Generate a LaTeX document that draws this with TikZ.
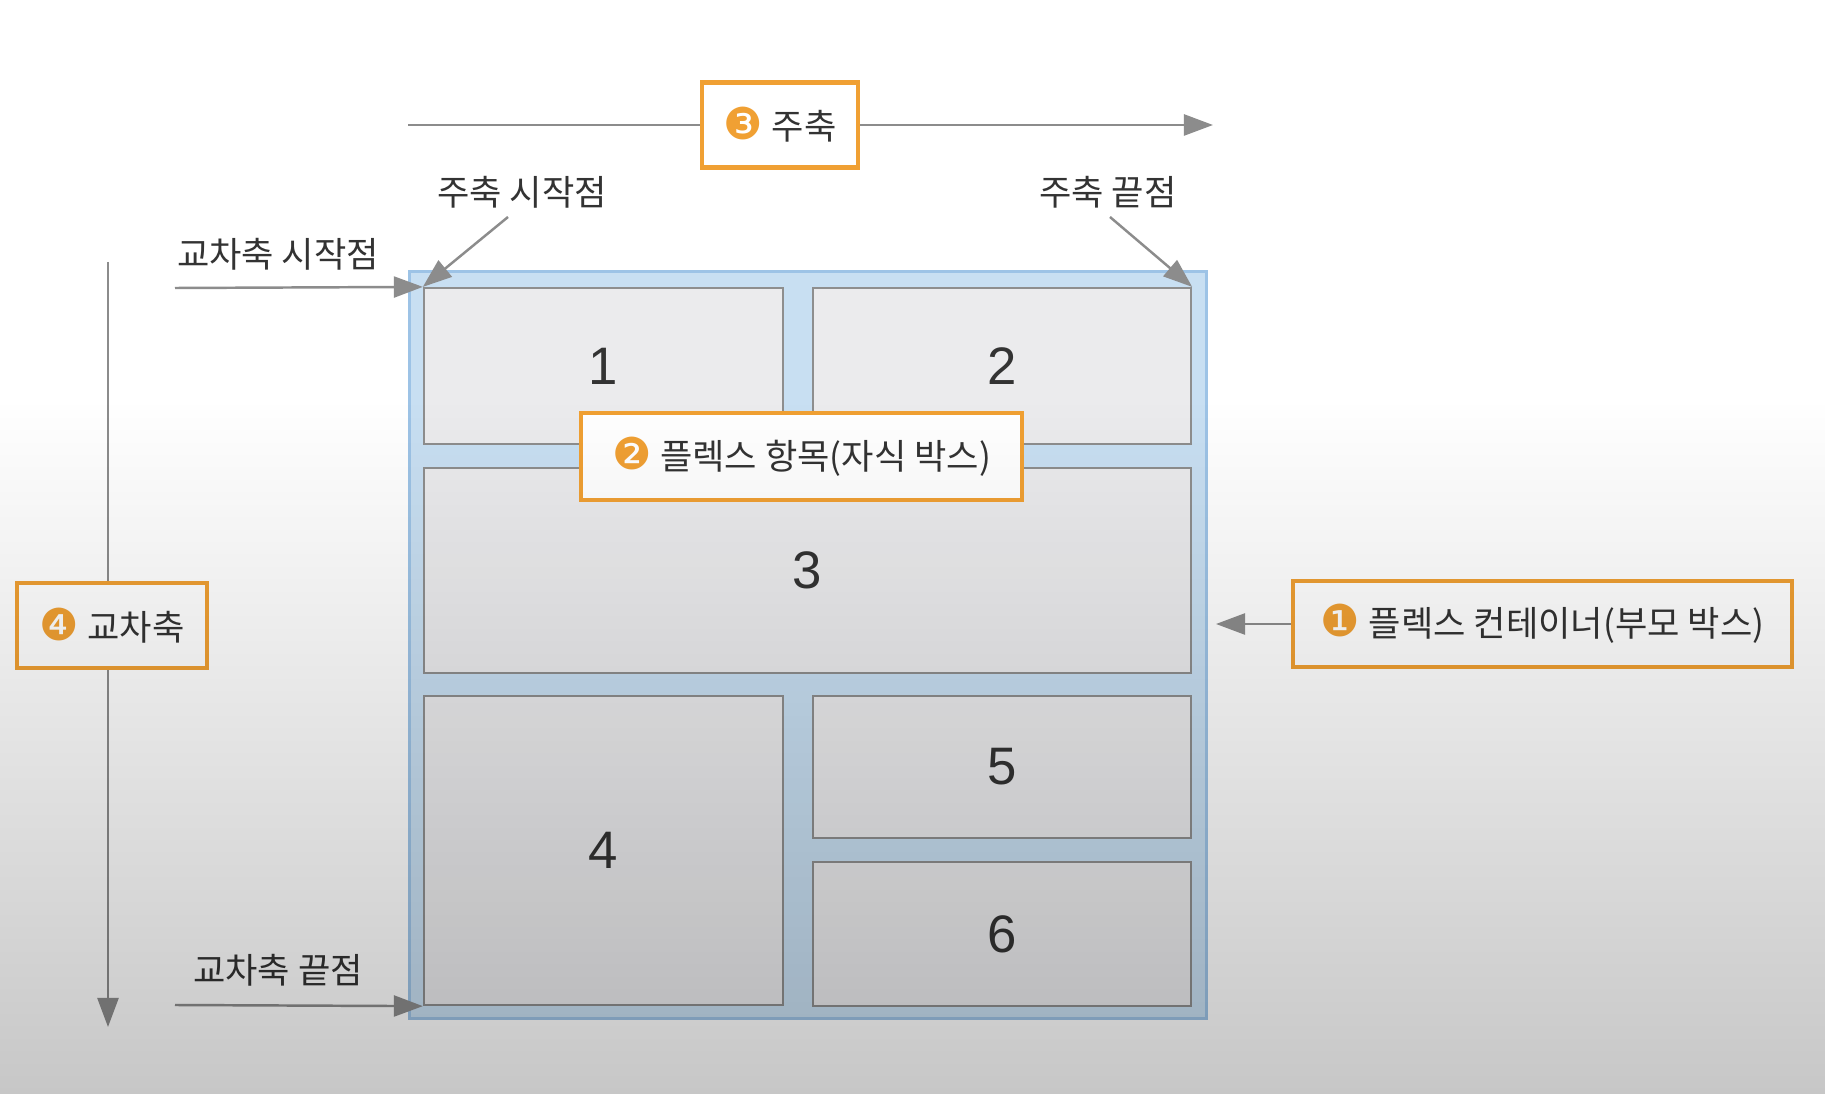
\documentclass[tikz,border=0pt]{standalone}
\usepackage{fontspec}
\setmainfont{Noto Sans CJK KR}
\newfontfamily\numfont{Liberation Sans}
\newfontfamily\dingfont{DejaVu Sans}
\usepackage{xcolor}
\usetikzlibrary{positioning, arrows.meta, calc, fadings}
\definecolor{axisgray}{HTML}{8C8C8C}
\definecolor{calloutorange}{HTML}{F0A033}
\definecolor{flexblue}{HTML}{C8DFF2}
\definecolor{flexedge}{HTML}{9DC3E6}
\definecolor{itemfill}{HTML}{EBEBED}
\definecolor{itemedge}{HTML}{8E8E8E}
\definecolor{labeltext}{HTML}{333333}
\newcommand{\badge}[1]{{\dingfont\fontsize{12.5}{12.5}\selectfont\color{calloutorange}#1}}
\tikzfading[name=greydown, top color=transparent!100, bottom color=transparent!78]

\begin{document}
\begin{tikzpicture}[x=0.01cm, y=-0.01cm,
  font=\fontsize{10}{12}\selectfont, text=labeltext,
  axis/.style={-{Triangle[length=0.29cm,width=0.21cm]}, line width=0.7pt, axisgray},
  axisline/.style={line width=0.7pt, axisgray},
  flexbox/.style={draw=flexedge, fill=flexblue, line width=0.8pt},
  item/.style={draw=itemedge, fill=itemfill, line width=0.6pt, inner sep=0pt,
    font=\numfont\fontsize{15}{15}\selectfont},
  callout/.style={draw=calloutorange, fill=white, line width=1.2pt, inner sep=0pt}]
\fill[white] (0,0) rectangle (1826,1094);
\useasboundingbox (0,0) rectangle (1826,1094);

% parent box and its items
\node[flexbox, minimum width=7.96cm, minimum height=7.46cm] (flexcont) at (808,645) {};
\foreach \n/\cx/\cy/\w/\h in {1/603.5/366/3.59/1.56, 2/1002/366/3.78/1.56,
  3/807.5/570.5/7.67/2.05, 4/603.5/850.5/3.59/3.09, 5/1002/767/3.78/1.42, 6/1002/934/3.78/1.44}
 {
  \node[item, minimum width=\w cm, minimum height=\h cm] (item\n) at (\cx,\cy) {\n};
 }

% callouts
\node[callout, minimum width=1.56cm, minimum height=0.85cm] (mainlbl) at (780,125) {\badge{❸}\hspace{0.25em}주축};
\node[callout, minimum width=4.41cm, minimum height=0.87cm] (itemlbl) at (801.5,456.5) {\badge{❷}\hspace{0.25em}플렉스 항목(자식 박스)};
\node[callout, minimum width=4.99cm, minimum height=0.86cm] (contlbl) at (1542.5,624) {\badge{❶}\hspace{0.25em}플렉스 컨테이너(부모 박스)};
\node[callout, minimum width=1.90cm, minimum height=0.85cm] (crosslbl) at (112,625.5) {\badge{❹}\hspace{0.25em}교차축};

\node (mslbl) at (522,192) {주축 시작점};
\node (melbl) at (1108,192) {주축 끝점};
\node (cslbl) at (278,254) {교차축 시작점};
\node (celbl) at (278,970) {교차축 끝점};

\coordinate (mainstart) at (408,125);
\coordinate (mainend) at (1213,125);
\coordinate (crossstart) at (108,262);
\coordinate (crossend) at (108,1027);
\coordinate (msfrom) at (508,217);
\coordinate (mefrom) at (1110,217);
\coordinate (csfrom) at (175,288);
\coordinate (cefrom) at (175,1005);
\coordinate (conttip) at (1216,624);

\draw[axisline] (mainstart) -- (mainlbl.west);
\draw[axis] (mainlbl.east) -- (mainend);
\draw[axisline] (crossstart) -- (crossstart |- crosslbl.north);
\draw[axis] (crossstart |- crosslbl.south) -- (crossend);

\draw[axis] (msfrom) -- (item1.north west);
\draw[axis] (mefrom) -- (item2.north east);
\draw[axis] (csfrom) -- (item1.north west);
\draw[axis] (cefrom) -- (item4.south west);
\draw[axis] (contlbl.west) -- (conttip);

% grey fall-off toward the bottom
\fill[black, path fading=greydown] (0,400) rectangle (1826,1094);
\end{tikzpicture}
\end{document}
